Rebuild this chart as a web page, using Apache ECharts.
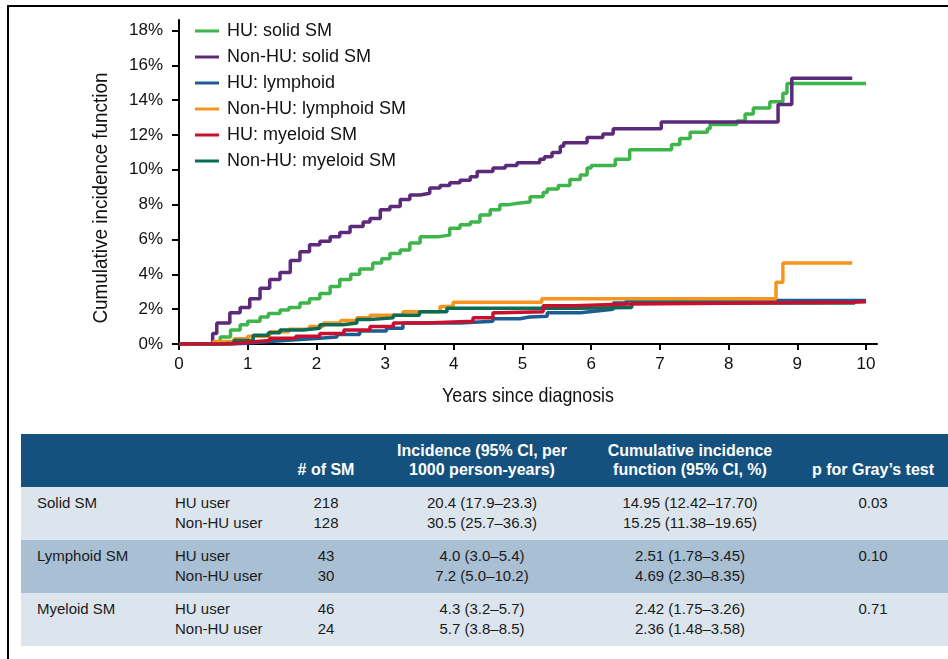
<!DOCTYPE html>
<html>
<head>
<meta charset="utf-8">
<script src="https://cdn.jsdelivr.net/npm/echarts/dist/echarts.min.js"></script>
<style>
body{margin:0;background:#fff;}
#page{position:relative;width:948px;height:659px;overflow:hidden;background:#fff;font-family:"Liberation Sans",Arial,sans-serif;}
#frameTop{position:absolute;left:7px;top:5px;width:941px;height:2px;background:#000;}
#frameLeft{position:absolute;left:7px;top:5px;width:1.5px;height:654px;background:#000;}
#chart{position:absolute;left:0;top:0;width:948px;height:425px;}
#tbl{position:absolute;left:21px;top:434px;width:927px;}
.band{position:absolute;left:0;width:927px;height:53px;}
.cell{position:absolute;line-height:20px;font-size:15px;color:#1a1a1a;white-space:nowrap;}
.head{color:#fff;font-weight:bold;font-size:16px;line-height:19px;}
</style>
</head>
<body>
<div id="page">
  <div id="chart"></div>
  <div id="tbl"></div>
  <div id="frameTop"></div>
  <div id="frameLeft"></div>
</div>
<script>
// step points: [years, cumulative incidence %]
var huSolid = [[0,0],[0.55,0],[0.6,0.4],[0.75,0.8],[0.89,1.1],[1.0,1.3],[1.18,1.55],[1.3,1.75],[1.47,1.95],[1.6,2.1],[1.76,2.35],[1.9,2.6],[2.05,2.9],[2.2,3.3],[2.34,3.7],[2.5,4.0],[2.63,4.3],[2.82,4.65],[2.95,4.9],[3.07,5.2],[3.22,5.4],[3.36,5.8],[3.51,6.15],[3.76,6.25],[3.94,6.65],[4.09,6.85],[4.24,7.0],[4.38,7.4],[4.53,7.7],[4.67,8.0],[4.8,8.1],[4.96,8.15],[5.11,8.45],[5.3,8.7],[5.36,8.9],[5.52,9.1],[5.69,9.45],[5.84,9.7],[5.94,10.1],[6.0,10.25],[6.35,10.6],[6.56,11.15],[7.17,11.45],[7.29,11.8],[7.44,12.15],[7.69,12.35],[7.73,12.6],[8.12,12.8],[8.24,13.2],[8.36,13.55],[8.6,13.9],[8.79,14.4],[8.85,14.95],[10.0,14.95]];
var nonHuSolid = [[0,0],[0.49,0.6],[0.55,1.2],[0.74,1.8],[0.89,2.1],[1.03,2.6],[1.18,3.2],[1.32,3.7],[1.47,4.1],[1.62,4.8],[1.76,5.3],[1.9,5.7],[2.05,5.9],[2.2,6.15],[2.34,6.4],[2.49,6.75],[2.68,7.0],[2.78,7.2],[2.93,7.7],[3.07,7.9],[3.22,8.3],[3.36,8.55],[3.51,8.65],[3.65,8.95],[3.8,9.1],[3.94,9.25],[4.09,9.4],[4.24,9.6],[4.34,9.9],[4.57,10.1],[4.75,10.25],[4.92,10.4],[5.25,10.6],[5.32,10.75],[5.43,11.0],[5.55,11.35],[5.6,11.55],[5.94,11.85],[6.17,12.05],[6.32,12.35],[7.02,12.75],[8.72,13.75],[8.92,15.25],[9.8,15.25]];
var huLymphoid = [[0,0],[0.78,0.05],[1.0,0.15],[1.32,0.25],[1.7,0.33],[2.05,0.4],[2.3,0.55],[2.63,0.75],[3.02,0.9],[3.26,1.2],[4.09,1.3],[4.57,1.45],[4.96,1.55],[5.1,1.6],[5.36,1.8],[5.84,1.9],[6.08,2.0],[6.32,2.35],[6.51,2.5],[10.0,2.5]];
var nonHuLymphoid = [[0,0],[0.5,0.15],[0.8,0.3],[1.0,0.45],[1.32,0.7],[1.6,0.85],[1.9,1.0],[2.1,1.2],[2.35,1.35],[2.59,1.5],[2.78,1.65],[3.26,1.85],[3.8,2.15],[3.99,2.4],[5.28,2.6],[8.69,3.55],[8.79,4.65],[9.8,4.65]];
var huMyeloid = [[0,0],[0.74,0.1],[1.0,0.2],[1.32,0.33],[1.7,0.45],[2.05,0.6],[2.4,0.8],[2.78,1.0],[3.12,1.2],[3.6,1.3],[4.28,1.5],[4.57,1.8],[4.67,1.85],[5.3,2.2],[5.76,2.3],[6.54,2.4],[9.8,2.42],[10.0,2.42]];
var nonHuMyeloid = [[0,0],[0.6,0.05],[0.8,0.2],[1.08,0.5],[1.3,0.65],[1.47,0.8],[1.8,0.9],[2.05,1.1],[2.39,1.2],[2.59,1.4],[2.78,1.5],[3.12,1.65],[3.5,1.85],[3.9,2.05],[5.81,2.1],[6.59,2.36],[9.84,2.36]];

var seriesNames = ['HU: solid SM','Non-HU: solid SM','HU: lymphoid','Non-HU: lymphoid SM','HU: myeloid SM','Non-HU: myeloid SM'];
var xTicks = [0,1,2,3,4,5,6,7,8,9,10];
var yTicks = [0,2,4,6,8,10,12,14,16,18];
var xName = 'Years since diagnosis';
var yName = 'Cumulative incidence function';

// table
var headerLines = [['',''],['',''],['','# of SM'],['Incidence (95% CI, per','1000 person-years)'],['Cumulative incidence','function (95% CI, %)'],['','p for Gray’s test']];
var groupNames = ['Solid SM','Lymphoid SM','Myeloid SM'];
var userTypes = ['HU user','Non-HU user'];
var smCounts = [['218','128'],['43','30'],['46','24']];
var incidence = [['20.4 (17.9–23.3)','30.5 (25.7–36.3)'],['4.0 (3.0–5.4)','7.2 (5.0–10.2)'],['4.3 (3.2–5.7)','5.7 (3.8–8.5)']];
var cifValues = [['14.95 (12.42–17.70)','15.25 (11.38–19.65)'],['2.51 (1.78–3.45)','4.69 (2.30–8.35)'],['2.42 (1.75–3.26)','2.36 (1.48–3.58)']];
var grayP = ['0.03','0.10','0.71'];

var colors = ['#3db54a','#5c2a7a','#1c5c93','#f7941d','#c8102e','#0d6b55'];

var makeSeries = function(name, data, color, z){
    return {
        name: name,
        type: 'line',
        step: 'end',
        data: data,
        symbol: 'none',
        color: color,
        z: z,
        lineStyle: {width: 3.5, color: color}
    };
};

var chart = echarts.init(document.getElementById('chart'));
chart.setOption({
    animation: false,
    textStyle: {fontFamily: '"Liberation Sans",Arial,sans-serif'},
    grid: {left: 179, right: 71, top: 20, bottom: 81, outerBoundsMode: 'none'},
    legend: {
        orient: 'vertical',
        left: 190,
        top: 17,
        icon: 'rect',
        itemWidth: 24,
        itemHeight: 3,
        itemGap: 8,
        data: seriesNames,
        textStyle: {fontSize: 18, color: '#111', padding: [0, 0, 0, 3]}
    },
    // axis titles in a narrowed face, like the original condensed type
    graphic: [
        {type: 'text', x: 528, y: 396, scaleX: 0.85, silent: true,
            style: {text: xName, fontSize: 21, fill: '#111', align: 'center', verticalAlign: 'middle', fontFamily: '"Liberation Sans",Arial,sans-serif'}},
        {type: 'text', x: 101, y: 198, rotation: Math.PI / 2, scaleX: 0.9, silent: true,
            style: {text: yName, fontSize: 21, fill: '#111', align: 'center', verticalAlign: 'middle', fontFamily: '"Liberation Sans",Arial,sans-serif'}}
    ],
    xAxis: {
        type: 'value',
        min: 0,
        max: 10.16,
        splitLine: {show: false},
        axisLine: {onZero: false, lineStyle: {color: '#000', width: 2}},
        axisTick: {customValues: xTicks, length: 6, lineStyle: {color: '#000', width: 2}},
        axisLabel: {customValues: xTicks, fontSize: 17, color: '#111', margin: 12}
    },
    yAxis: {
        type: 'value',
        min: 0,
        max: 18.6,
        splitLine: {show: false},
        axisLine: {show: true, lineStyle: {color: '#000', width: 2}},
        axisTick: {show: true, customValues: yTicks, length: 7, lineStyle: {color: '#000', width: 2}},
        axisLabel: {customValues: yTicks, fontSize: 17, color: '#111', margin: 16, formatter: '{value}%'}
    },
    series: [
        makeSeries(seriesNames[0], huSolid, colors[0], 2),
        makeSeries(seriesNames[1], nonHuSolid, colors[1], 2),
        makeSeries(seriesNames[2], huLymphoid, colors[2], 3),
        makeSeries(seriesNames[3], nonHuLymphoid, colors[3], 3),
        makeSeries(seriesNames[5], nonHuMyeloid, colors[5], 4),
        makeSeries(seriesNames[4], huMyeloid, colors[4], 5)
    ]
});

// table drawing
var colLeft = [16, 154];
var colCenter = [305, 461, 669, 852];
var bandColors = ['#dce5ee', '#a9bfd4', '#dce5ee'];
var html = '<div class="band" style="top:0;background:#14517f;"></div>';
var cellAt = function(col, y, text, cls){
    if(col < 2){
        return '<div class="cell ' + cls + '" style="left:' + colLeft[col] + 'px;top:' + y + 'px;">' + text + '</div>';
    }
    var c = colCenter[col - 2];
    return '<div class="cell ' + cls + '" style="left:' + (c - 120) + 'px;width:240px;text-align:center;top:' + y + 'px;">' + text + '</div>';
};
for(var h = 0; h < headerLines.length; h++){
    html += cellAt(h, 7, headerLines[h][0] || '&nbsp;', 'head');
    html += cellAt(h, 26, headerLines[h][1] || '&nbsp;', 'head');
}
for(var g = 0; g < groupNames.length; g++){
    var rowTop = 53 + g * 53;
    html += '<div class="band" style="top:' + rowTop + 'px;background:' + bandColors[g] + ';"></div>';
    html += cellAt(0, rowTop + 6, groupNames[g], '');
    html += cellAt(5, rowTop + 6, grayP[g], '');
    for(var u = 0; u < 2; u++){
        var lineY = rowTop + 6 + u * 20;
        html += cellAt(1, lineY, userTypes[u], '');
        html += cellAt(2, lineY, smCounts[g][u], '');
        html += cellAt(3, lineY, incidence[g][u], '');
        html += cellAt(4, lineY, cifValues[g][u], '');
    }
}
document.getElementById('tbl').innerHTML = html;
</script>
</body>
</html>
